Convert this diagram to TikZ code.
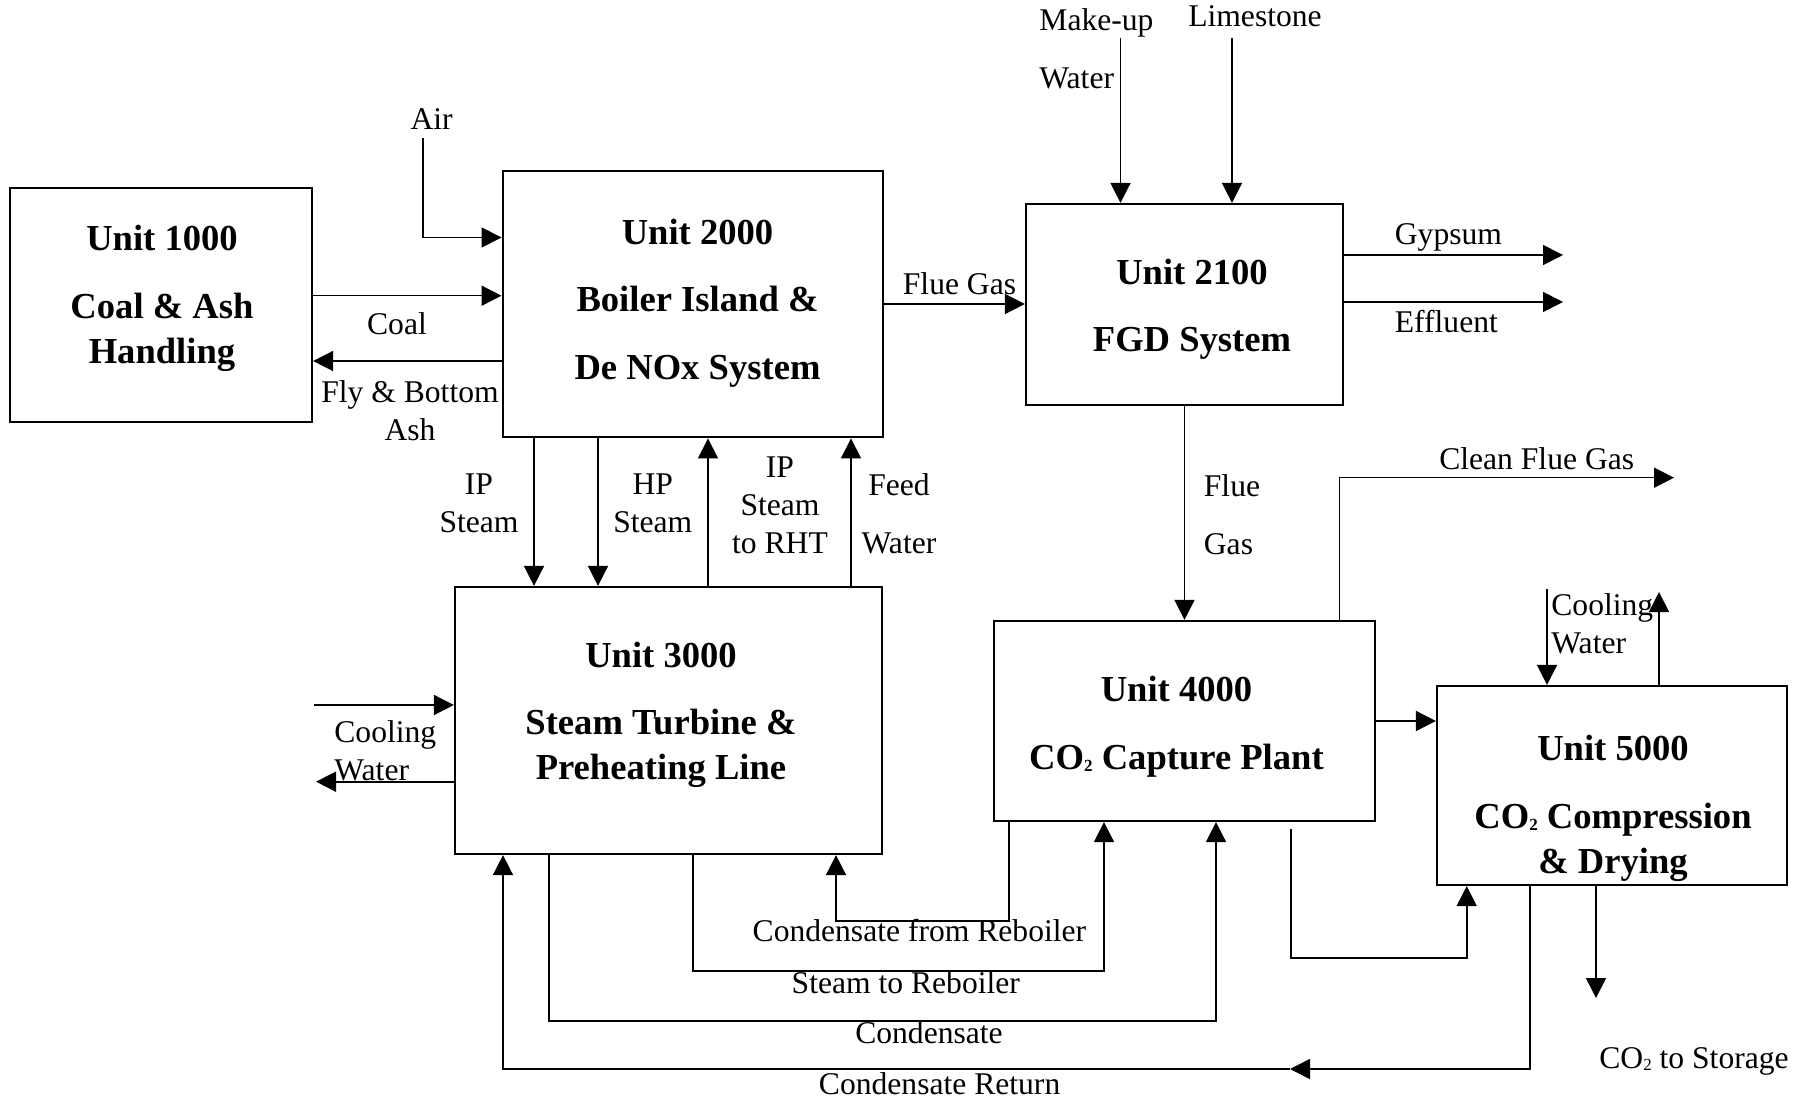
\documentclass[tikz,border=0pt]{standalone}
\usepackage{fontspec}
\setmainfont{Liberation Serif}
\usetikzlibrary{arrows.meta}
\newcommand\unitfont{\fontsize{18.3}{22.5}\selectfont\bfseries}
\newcommand\flowfont{\fontsize{15.8}{19}\selectfont}
\newcommand\subtwo{\raisebox{-1pt}{\fontsize{8.5}{9}\selectfont 2}}
\tikzset{
unit/.style={
draw,
line width=1.1pt,
inner sep=0pt
},
unittext/.style={
font=\unitfont,
align=center,
inner sep=0pt,
anchor=north
},
flowlabel/.style={
font=\flowfont,
inner sep=0pt,
anchor=base
},
flowstack/.style={
font=\flowfont,
align=center,
inner sep=0pt,
anchor=north
},
arrow/.style={
-{Triangle[length=10pt,width=10pt]},
line width=0.8pt
}
}

\begin{document}
\begin{tikzpicture}[x=0.5pt, y=-0.5pt]
\useasboundingbox (0,0) rectangle (1810,1101);

\node[unit, minimum width=151pt, minimum height=116.9pt] (u1) at (161,304.75) {};
\node[unit, minimum width=190.2pt, minimum height=133.2pt] (u2) at (692.85,304.15) {};
\node[unit, minimum width=158.5pt, minimum height=100.5pt] (u21) at (1184.5,304.5) {};
\node[unit, minimum width=213.5pt, minimum height=133.5pt] (u3) at (668.5,720.5) {};
\node[unit, minimum width=190.5pt, minimum height=100pt] (u4) at (1184.5,721) {};
\node[unit, minimum width=175pt, minimum height=99.5pt] (u5) at (1612,785.5) {};

\node[unittext] (u1txt) at (162,225) {Unit 1000\\[11.25pt]Coal \& Ash\\Handling};
\node[unittext] (u2txt) at (697.5,218.3) {Unit 2000\\[11.25pt]Boiler Island \&\\[11.25pt]De NOx System};
\node[unittext] (u21txt) at (1192,258.3) {Unit 2100\\[11.25pt]FGD System};
\node[unittext] (u3txt) at (661,641.7) {Unit 3000\\[11.25pt]Steam Turbine \&\\Preheating Line};
\node[unittext] (u4txt) at (1176.5,676) {Unit 4000\\[11.25pt]CO\subtwo{} Capture Plant};
\node[unittext] (u5txt) at (1613,735) {Unit 5000\\[11.25pt]CO\subtwo{} Compression\\\& Drying};

\coordinate (airin) at (423,138);
\coordinate (mkin) at (1120.5,38);
\coordinate (limin) at (1232,38);
\coordinate (gypout) at (1563,255);
\coordinate (effout) at (1563,302);
\coordinate (cleanout) at (1674,477.7);
\coordinate (cw3in) at (314,705);
\coordinate (cw3out) at (316,781.7);
\coordinate (cw5in) at (1547,589);
\coordinate (cw5out) at (1659,592);
\coordinate (cfr) at (836,921);
\coordinate (str) at (1104,971);
\coordinate (cnd) at (1216,1021);
\coordinate (crmid) at (1290,1069);
\coordinate (capout) at (1291,829);
\coordinate (ccs) at (1466.7,957.7);
\coordinate (storeout) at (1596,998);

\draw[arrow] (airin) |- (u2.west |- 0,237.5);
\draw[arrow] (u1.east |- 0,295.7) -- (u2.west |- 0,295.7);
\draw[arrow] (u2.west |- 0,361) -- (u1.east |- 0,361);
\draw[arrow] (u2.east |- 0,304) -- (u21.west |- 0,304);
\draw[arrow] (mkin) -- (u21.north -| mkin);
\draw[arrow] (limin) -- (u21.north -| limin);
\draw[arrow] (u21.east |- gypout) -- (gypout);
\draw[arrow] (u21.east |- effout) -- (effout);
\draw[arrow] (u21) -- (u4);
\draw[arrow] (u4.north -| 1339.3,0) |- (cleanout);

\draw[arrow] (u2.south -| 534,0) -- (u3.north -| 534,0);
\draw[arrow] (u2.south -| 598,0) -- (u3.north -| 598,0);
\draw[arrow] (u3.north -| 708,0) -- (u2.south -| 708,0);
\draw[arrow] (u3.north -| 851,0) -- (u2.south -| 851,0);

\draw[arrow] (cw3in) -- (u3.west |- cw3in);
\draw[arrow] (u3.west |- cw3out) -- (cw3out);
\draw[arrow] (u4.east |- 0,721) -- (u5.west |- 0,721);
\draw[arrow] (cw5in) -- (u5.north -| cw5in);
\draw[arrow] (u5.north -| cw5out) -- (cw5out);

\draw[arrow] (u4.south -| 1009,0) |- (cfr) -- (u3.south -| cfr);
\draw[arrow] (u3.south -| 693,0) |- (str) -- (u4.south -| str);
\draw[arrow] (u3.south -| 549,0) |- (cnd) -- (u4.south -| cnd);
\draw[arrow] (u5.south -| 1530,0) |- (crmid);
\draw[arrow] (crmid) -| (u3.south -| 503,0);
\draw[arrow] (capout) |- (ccs) -- (u5.south -| ccs);
\draw[arrow] (u5.south -| storeout) -- (storeout);

\node[flowlabel] (airlbl) at (431.7,129.3) {Air};
\node[flowlabel] (coallbl) at (397,335) {Coal};
\node[flowstack] (ashlbl) at (410,380) {Fly \& Bottom\\Ash};
\node[flowlabel] (fluelbl) at (959.5,295) {Flue Gas};
\node[flowstack, align=left, anchor=north west] (mklbl) at (1039,8.3) {Make-up\\[10pt]Water};
\node[flowlabel] (limlbl) at (1255,26.7) {Limestone};
\node[flowlabel, anchor=base west] (gyplbl) at (1394.5,245) {Gypsum};
\node[flowlabel, anchor=base west] (efflbl) at (1394.5,332.3) {Effluent};
\node[flowstack, align=left, anchor=north west] (flue2lbl) at (1203.5,474) {Flue\\[10pt]Gas};
\node[flowlabel] (cleanlbl) at (1536.7,470) {Clean Flue Gas};
\node[flowstack] (iplbl) at (479,473.3) {IP\\Steam};
\node[flowstack] (hplbl) at (652.8,473.3) {HP\\Steam};
\node[flowstack] (rhtlbl) at (780,456.7) {IP\\Steam\\to RHT};
\node[flowstack] (fwlbl) at (899,473.3) {Feed\\[10pt]Water};
\node[flowstack, align=left, anchor=north west] (cw3lbl) at (334,720) {Cooling\\Water};
\node[flowstack, align=left, anchor=north west] (cw5lbl) at (1551,593.3) {Cooling\\Water};
\node[flowlabel] (cfrlbl) at (919.4,941.7) {Condensate from Reboiler};
\node[flowlabel] (strlbl) at (905.8,993.3) {Steam to Reboiler};
\node[flowlabel] (cndlbl) at (929,1043.3) {Condensate};
\node[flowlabel] (crlbl) at (939.6,1094) {Condensate Return};
\node[flowlabel] (co2lbl) at (1694,1068.3) {CO\subtwo{} to Storage};

\end{tikzpicture}
\end{document}
